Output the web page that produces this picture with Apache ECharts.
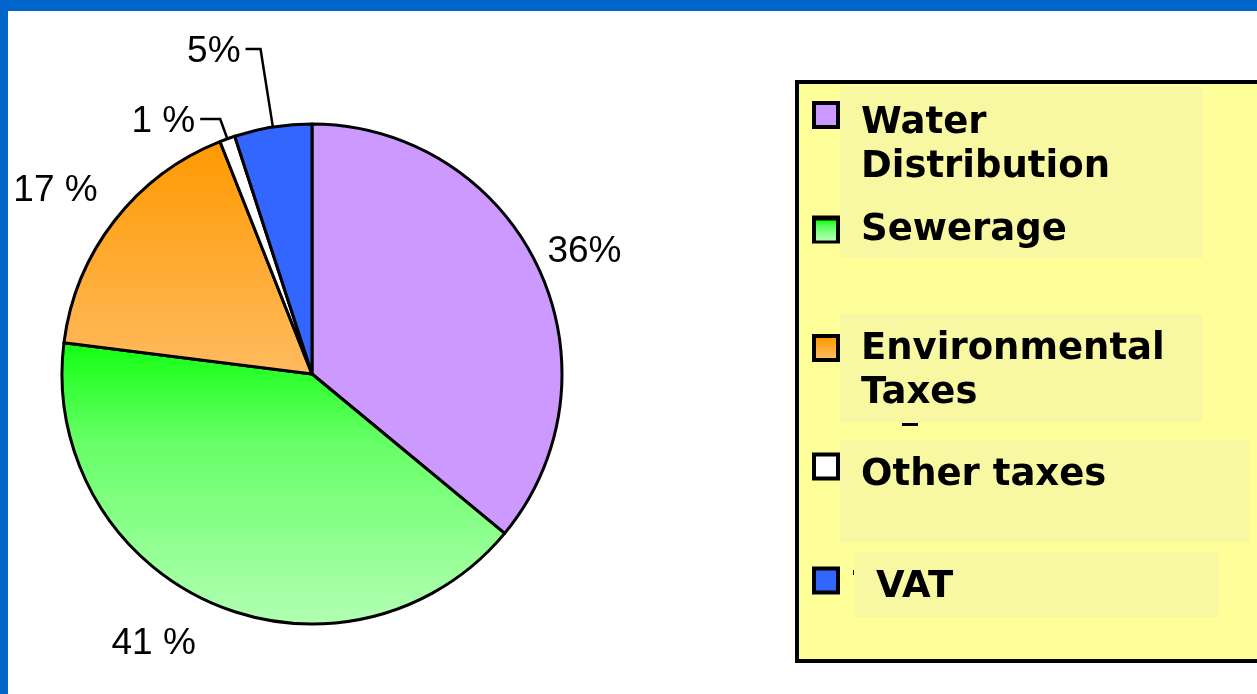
<!DOCTYPE html>
<html>
<head>
<meta charset="utf-8">
<script src="https://cdn.jsdelivr.net/npm/echarts@6/dist/echarts.min.js"></script>
<style>
html,body{margin:0;padding:0;background:#fff;}
#chart{width:1257px;height:694px;}
</style>
</head>
<body>
<div id="chart"></div>
<script>
// ---- data ----
const categories = ['Water Distribution', 'Sewerage', 'Environmental Taxes', 'Other taxes', 'VAT'];
const values = [36, 41, 17, 1, 5];
const pctLabels = ['36%', '41 %', '17 %', '1 %', '5%'];
const legendLabels = ['Water\nDistribution', 'Sewerage', 'Environmental\nTaxes', 'Other taxes', 'VAT'];

// ---- styles / layout ----
const sliceColors = [
  '#cc99ff',
  {type: 'linear', x: 0, y: 0, x2: 0, y2: 1, colorStops: [
    {offset: 0, color: '#11ff11'}, {offset: 0.35, color: '#66ff66'}, {offset: 1, color: '#b3ffb3'}]},
  {type: 'linear', x: 0, y: 0, x2: 0, y2: 1, colorStops: [
    {offset: 0, color: '#ff9900'}, {offset: 1, color: '#ffbb60'}]},
  '#ffffff',
  '#3366ff'
];
// label line lengths [length, length2, showLine]
const lineCfg = [[8, 0, false], [40, 0, false], [20, 0, false], [21, 20, true], [79, 15, true]];
const labelShift = [[-3, -12], [4, 4], [4, -18], [0, 3], [0, 3]];
// legend per item: [icon centre y, gap line before, text left padding]
const legendCfg = [[115, 60, 20], [229.5, 0, 20], [348, 47, 20], [466.5, 18, 20], [580.5, 14, 35]];
const LEGEND_LH = 44;
const TEXT_INSET = 4.5;
const GAP_FONT = 2;
const ICON = 20, ICON_BORDER = 4, ICON_LEFT = 816;

const chart = echarts.init(document.getElementById('chart'), null, {renderer: 'canvas'});

const pieData = categories.map((name, i) => ({
  name: name,
  value: values[i],
  itemStyle: {color: sliceColors[i]},
  labelLine: {show: lineCfg[i][2], length: lineCfg[i][0], length2: lineCfg[i][1]}
}));

const legends = categories.map((name, i) => {
  const cfg = legendCfg[i];
  const lines = legendLabels[i].split('\n');
  const totalH = cfg[1] + lines.length * LEGEND_LH;
  // bounding-box top relative to icon centre
  const cands = [-ICON / 2, -totalH / 2 + cfg[1] + TEXT_INSET];
  if (cfg[1] > 0) cands.push(-totalH / 2 + cfg[1] / 2 - GAP_FONT / 2);
  const top = cfg[0] + Math.min.apply(null, cands);
  return {
    data: [name],
    orient: 'vertical',
    left: ICON_LEFT,
    top: top,
    padding: 0,
    z: 5,
    itemWidth: ICON,
    itemHeight: ICON,
    selectedMode: false,
    icon: 'rect',
    itemStyle: {borderWidth: 0},
    formatter: function () {
      const parts = lines.map(s => '{t|' + s + '}');
      if (cfg[1] > 0) parts.unshift('{g| }');
      return parts.join('\n');
    },
    textStyle: {
      color: '#000',
      fontFamily: 'DejaVu Sans',
      fontWeight: 'bold',
      fontSize: 37,
      padding: [0, 0, 0, cfg[2]],
      rich: {
        t: {color: '#000', fontFamily: 'DejaVu Sans', fontWeight: 'bold', fontSize: 37, lineHeight: LEGEND_LH},
        g: {fontSize: GAP_FONT, lineHeight: cfg[1] || 1}
      }
    }
  };
});

const graphics = [
  {type: 'rect', z: 0, shape: {x: 0, y: 0, width: 1257, height: 11}, style: {fill: '#0066cc'}, silent: true},
  {type: 'rect', z: 0, shape: {x: 0, y: 0, width: 8, height: 694}, style: {fill: '#0066cc'}, silent: true},
  {type: 'rect', z: 0, shape: {x: 797, y: 82, width: 480, height: 579}, style: {fill: '#ffff99', stroke: '#000', lineWidth: 4}, silent: true},
  {type: 'rect', z: 0, shape: {x: 840, y: 87, width: 363, height: 171}, style: {fill: '#f8f8a2'}, silent: true},
  {type: 'rect', z: 0, shape: {x: 840, y: 314, width: 363, height: 108}, style: {fill: '#f8f8a2'}, silent: true},
  {type: 'rect', z: 0, shape: {x: 840, y: 440, width: 409, height: 102}, style: {fill: '#f8f8a2'}, silent: true},
  {type: 'rect', z: 0, shape: {x: 855, y: 552, width: 364, height: 65}, style: {fill: '#f8f8a2'}, silent: true},
  {type: 'rect', z: 0, shape: {x: 902, y: 423, width: 16, height: 3}, style: {fill: '#000'}, silent: true},
  {type: 'rect', z: 0, shape: {x: 853, y: 570, width: 1, height: 5}, style: {fill: '#000'}, silent: true}
];
// black frames behind legend icons
legendCfg.forEach(cfg => {
  graphics.push({type: 'rect', z: 1,
    shape: {x: ICON_LEFT - ICON_BORDER, y: cfg[0] - ICON / 2 - ICON_BORDER, width: ICON + 2 * ICON_BORDER, height: ICON + 2 * ICON_BORDER},
    style: {fill: '#000'}, silent: true});
});

const option = {
  animation: false,
  backgroundColor: '#ffffff',
  graphic: graphics,
  legend: legends,
  series: [{
    type: 'pie',
    center: [312, 374],
    radius: 250,
    startAngle: 90,
    clockwise: true,
    avoidLabelOverlap: false,
    silent: true,
    itemStyle: {borderColor: '#000', borderWidth: 3},
    label: {
      show: true,
      position: 'outside',
      color: '#000',
      fontFamily: 'Liberation Sans',
      fontSize: 37,
      fontWeight: 'normal',
      distanceToLabelLine: 5,
      formatter: function (p) { return pctLabels[p.dataIndex]; }
    },
    labelLine: {lineStyle: {color: '#000', width: 2.5}, smooth: false},
    labelLayout: function (p) {
      return {dx: labelShift[p.dataIndex][0], dy: labelShift[p.dataIndex][1]};
    },
    emphasis: {disabled: true},
    data: pieData
  }]
};
chart.setOption(option);
</script>
</body>
</html>
